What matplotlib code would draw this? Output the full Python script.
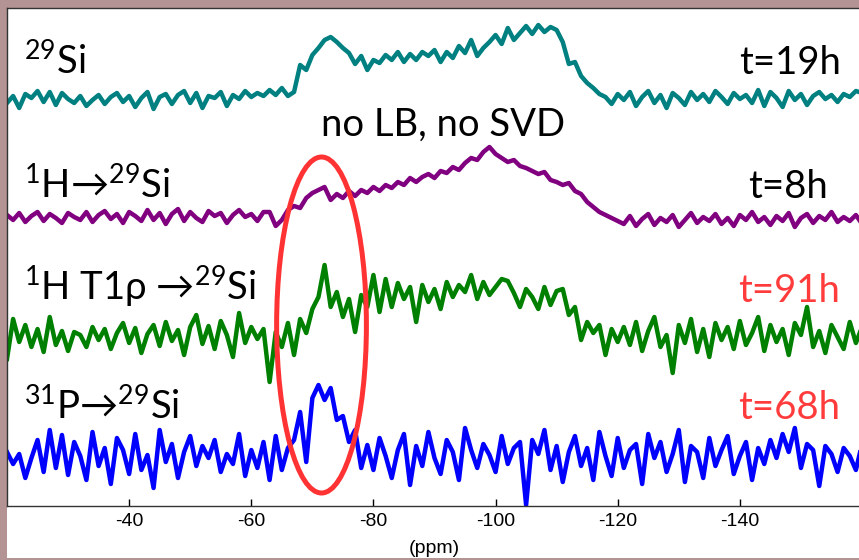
#stacked 29Si CP spectra, no LB no SVD
import numpy as np
import matplotlib
matplotlib.use("Agg")
import matplotlib.pyplot as plt
from matplotlib.patches import Ellipse, Rectangle

plt.rcParams['mathtext.fontset'] = 'custom'
plt.rcParams['mathtext.rm'] = 'Lato'
plt.rcParams['mathtext.it'] = 'Lato'
plt.rcParams['axes.unicode_minus'] = False

# chemical shift grid (ppm), one point per ppm
ppm = np.arange(-20, -161, -1)

# intensities (arb. units, relative to each trace's baseline)
si29 = [-3, 4, -8, 6, 2, 9, -2, 8, -5, 7, 1, -3, 4, -6, 0, 5, -4, 3, 7, -2,
        4, -7, 2, 8, -9, 3, 6, -4, 5, 9, -3, 7, -8, 4, 2, 8, -6, 5, 1, 9,
        3, 7, 4, 10, 5, 12, 4, 8,
        35, 30, 45, 52, 60, 63, 58, 52, 47, 36, 44, 30, 40, 37, 45, 40, 48, 38, 46, 40,
        48, 44, 50, 38, 48, 42, 54, 47, 60, 44, 52, 58, 65, 56, 72, 60, 67, 74, 66, 75,
        68, 73, 70, 58, 36, 38, 24, 17, 12, 6, 3,
        -4, 6, 0, 8, -6, 3, 9, -3, 5, -8, 7, 2, -5, 8, 0, 6, -2, 9, 3, -4,
        7, 1, 5, -3, 10, -6, 8, 2, -7, 9, 0, 6, -5, 4, 8, 1, 5, -2, 6, 3, 9, 7]
h_si = [3, -2, 5, -4, 2, 6, -3, 4, 0, -5, 5, 1, -2, 6, -4, 3, 7, -1, 4, -5,
        6, 2, -3, 8, -2, 5, -6, 4, 9, -3, 6, 0, -4, 7, 2, 5, -5, 3, 8, 1,
        4, -3, 6, 6, -8,
        -2, 8, 12, 10, 20, 25, 28, 31, 18, 24, 20, 27, 22, 28, 25, 31, 27, 33, 30, 36,
        33, 40, 36, 41, 44, 40, 47, 45, 51, 48, 55, 60, 58, 66, 71, 64, 60, 56, 58, 52,
        50, 47, 44, 46, 38, 36, 33, 35, 27, 24, 16, 11, 6, 3, 0, -3,
        -6, 2, -8, -1, 4, -7, 0, -4, 3, -9, -2, 5, -5, 1, -3, 4, -6, 0, -8, 3,
        -2, 6, -4, 1, -7, 2, -3, 5, -9, 0, 4, -5, 2, -2, 6, -4, 1, -3, 3, -6]
h_t1rho = [-22, 18, -5, 12, -10, 8, -15, 20, -8, 6, -14, 5, 2, -10, 10, -3, 8, -12, 4, 14,
           -6, 9, -16, 3, 12, -9, 15, -4, 7, -18, 10, 22, -7, 11, -12, 16, 2, -20, 24, -6,
           10, -2, 8,
           -45, 5, -10, 14, -18, 18, 4, 28, 40, 72, 30, 45, 20, 38, 5, 42, 30, 62, 25, 58,
           30, 54, 38, 50, 15, 52, 35, 48, 28, 55, 40, 52, 45, 62, 38, 55, 42, 50, 58, 56,
           44, 30, 48, 40, 28, 50, 32, 46, 48, 22, 30, -3, 15, 4, 12, -18, 8, -5,
           10, -8, 15, -14, 6, 20, -10, 2, -36, 12, -6, 18, -15, 8, -20, 14, -3, 10, -12, 16,
           -8, 4, 20, -14, 12, -5, 8, -18, 14, 2, 30, -10, 6, -16, 12, 0, -12, 15, -6, 10]
p_si = [8, -4, 6, -18, 2, 20, -12, 30, -8, 25, -15, 18, 4, -20, 28, -6, 12, -24, 22, 10,
        -14, 26, -10, 5, -28, 30, -2, 16, -18, 8, 24, -6, 14, 2, 20, -12, 6, -4, 26, -16,
        10, -8, 18, -20, 24, -10, 12,
        20, 48, -2, 62, 75, 60, 72, 40, 44, 18, 30, -8,
        15, -10, 22, 4, -18, 10, 26, -25, 14, -6, 28, 2, -14, 20, 8, -20, 32, 10, -8, 16,
        5, -12, 24, -4, 12, 18, -45, 20, 6, 30, -10, 14, -22, 8, 24, -6, 12, -20, 28, 4,
        -16, 22, -8, 10, 16, -24, 26, 2, 18, -12, 6, 30, -22, 14, 8, -18, 22, -6, 10, 24,
        -14, 4, 18, -20, 12, -4, 20, 2, 26, 8, 32, -8, 16, 10, -26, 14, 6, -12, 12, 4,
        -10, 16]

traces = [si29, h_si, h_t1rho, p_si]
offsets = [406, 288, 169, 46]
colors = ['#008080', '#800080', '#008000', '#0000ff']
left_labels = [r'$^{29}$Si', r'$^{1}$H→$^{29}$Si', r'$^{1}$H T1ρ →$^{29}$Si', r'$^{31}$P→$^{29}$Si']
right_labels = ['t=19h', 't=8h', 't=91h', 't=68h']
right_colors = ['black', 'black', '#ff3b3b', '#ff3b3b']

W, H = 859, 560
fig = plt.figure(figsize=(W / 100, H / 100), dpi=100)
fig.patch.set_facecolor('#b39393')
fig.patches.append(Rectangle((7 / W, 2 / H), 852 / W, 550 / H, transform=fig.transFigure,
                             facecolor='white', edgecolor='none', zorder=-10))

ax = fig.add_axes([7 / W, (H - 506) / H, 855 / W, 498 / H])
ax.set_zorder(1)
for y, off, c in zip(traces, offsets, colors):
    ax.plot(ppm, np.array(y) + off, color=c, lw=3.2, solid_joinstyle='round')

ax.add_patch(Ellipse((-71.5, 181), 14.7, 336, fill=False, edgecolor='#ff3333', lw=3.6, zorder=5))

ax.set_xlim(-20, -160)
ax.set_ylim(0, 498)
ax.set_yticks([])
ax.set_xticks([-40, -60, -80, -100, -120, -140])
ax.tick_params(axis='x', direction='in', length=5, width=1, pad=5, labelsize=14)
for lab in ax.get_xticklabels():
    lab.set_family('Liberation Sans')
ax.spines['right'].set_visible(False)
for s in ['left', 'bottom', 'top']:
    ax.spines[s].set_color('#333333')
    ax.spines[s].set_linewidth(1.0)
ax.set_xlabel('(ppm)', fontsize=14, family='Liberation Sans', labelpad=7)

fam = ['Lato', 'DejaVu Sans']
left_y = [74, 198, 300, 419]
right_x = [841, 828, 840, 840]
right_y = [74, 198, 302, 419]
for i in range(4):
    fig.text(24 / W, 1 - left_y[i] / H, left_labels[i], fontsize=27.5, family=fam, va='baseline',
             ha='left', zorder=3)
    fig.text(right_x[i] / W, 1 - right_y[i] / H, right_labels[i], fontsize=27.5, family=fam,
             va='baseline', ha='right', color=right_colors[i], zorder=3)
fig.text(443 / W, 1 - 136 / H, 'no LB, no SVD', fontsize=27.5, family=fam, va='baseline',
         ha='center', zorder=3)

fig.savefig('out.png', dpi=100, facecolor=fig.get_facecolor())
